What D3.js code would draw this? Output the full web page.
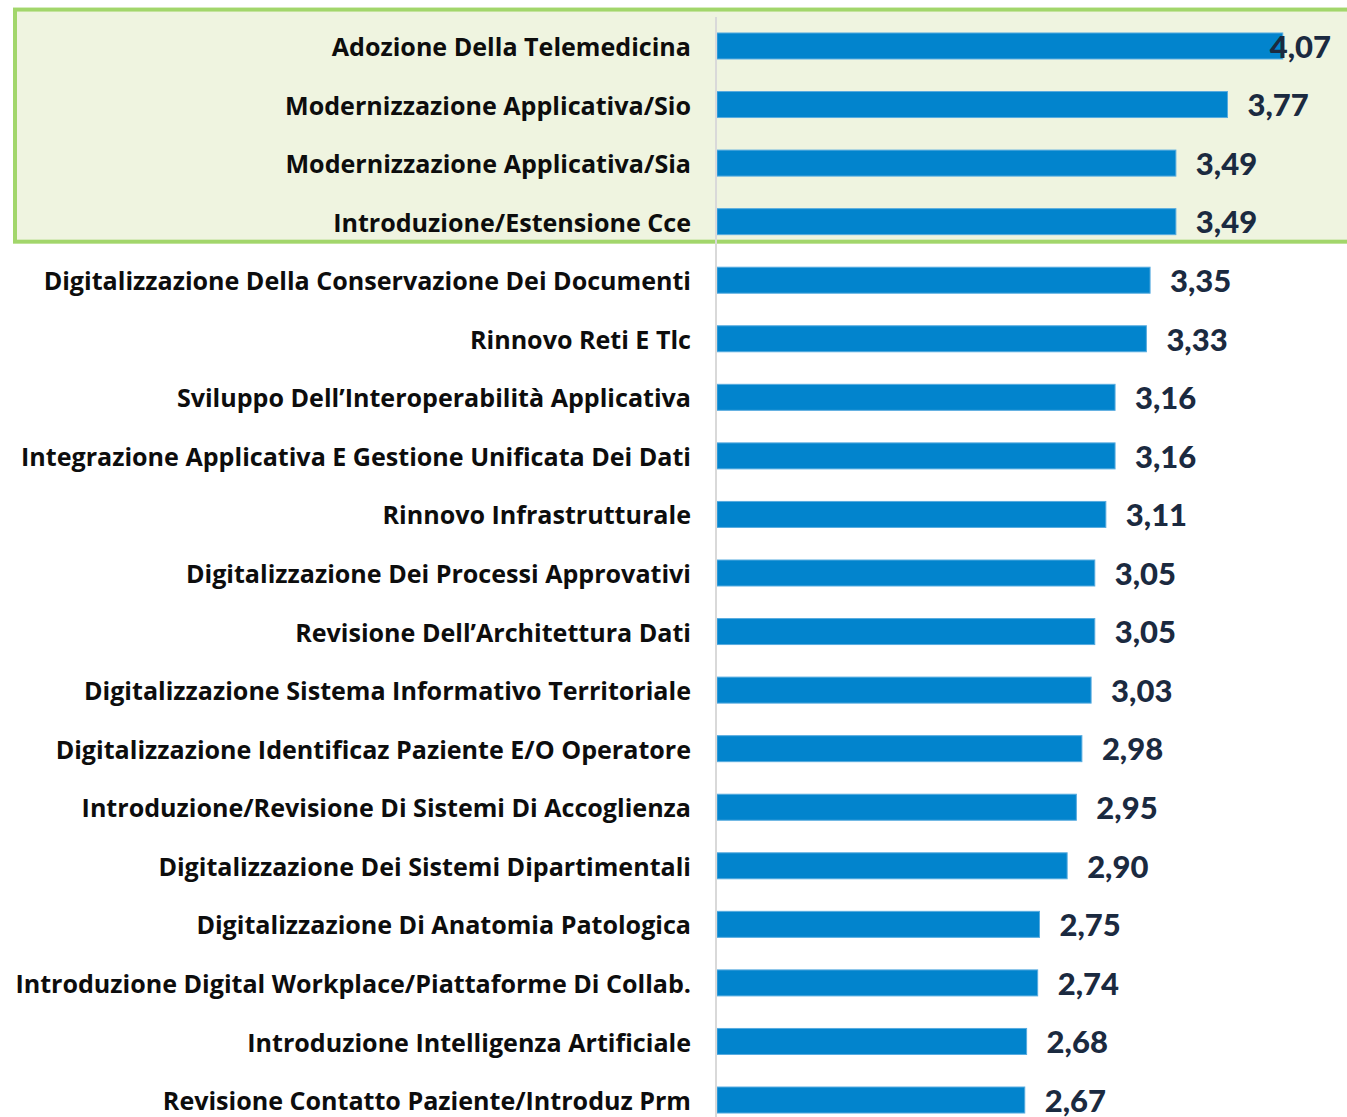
<!DOCTYPE html>
<html>
<head>
<meta charset="utf-8">
<script src="https://cdn.jsdelivr.net/npm/d3@7"></script>
<style>
  body { margin: 0; background: #fff; }
  svg { display: block; }
</style>
</head>
<body>
<div id="chart"></div>
<script>
const categories = [
    "Adozione Della Telemedicina",
    "Modernizzazione Applicativa/Sio",
    "Modernizzazione Applicativa/Sia",
    "Introduzione/Estensione Cce",
    "Digitalizzazione Della Conservazione Dei Documenti",
    "Rinnovo Reti E Tlc",
    "Sviluppo Dell’Interoperabilità Applicativa",
    "Integrazione Applicativa E Gestione Unificata Dei Dati",
    "Rinnovo Infrastrutturale",
    "Digitalizzazione Dei Processi Approvativi",
    "Revisione Dell’Architettura Dati",
    "Digitalizzazione Sistema Informativo Territoriale",
    "Digitalizzazione Identificaz Paziente E/O Operatore",
    "Introduzione/Revisione Di Sistemi Di Accoglienza",
    "Digitalizzazione Dei Sistemi Dipartimentali",
    "Digitalizzazione Di Anatomia Patologica",
    "Introduzione Digital Workplace/Piattaforme Di Collab.",
    "Introduzione Intelligenza Artificiale",
    "Revisione Contatto Paziente/Introduz Prm"
];
const values = [4.07, 3.77, 3.49, 3.49, 3.35, 3.33, 3.16, 3.16, 3.11, 3.05, 3.05, 3.03, 2.98, 2.95, 2.90, 2.75, 2.74, 2.68, 2.67];
const highlighted = categories.slice(0, 4);

const width = 1347, height = 1117;
const axisX = 716;

const svg = d3.select("#chart")
    .append("svg")
    .attr("width", width)
    .attr("height", height);

const x = d3.scaleLinear()
    .domain([1, 4.5])
    .range([717, 1362]);

const y = d3.scaleBand()
    .domain(categories)
    .range([16.7, 1129.3])
    .paddingInner(0.556)
    .paddingOuter(0.278);

const step = y.step();

// highlight box around top items
const boxTop = y(highlighted[0]) - 0.4 * step;
const boxBottom = y(highlighted[highlighted.length - 1]) + y.bandwidth() + 0.12 * step;
svg.append("rect")
    .attr("x", 15)
    .attr("y", boxTop)
    .attr("width", 1345)
    .attr("height", boxBottom - boxTop)
    .attr("fill", "#eff4e0")
    .attr("stroke", "#a2d66b")
    .attr("stroke-width", 4);

// bars
svg.selectAll(".bar")
    .data(categories)
    .enter()
    .append("rect")
    .attr("class", "bar")
    .attr("x", x(1))
    .attr("y", d => y(d))
    .attr("width", (d, i) => x(values[i]) - x(1))
    .attr("height", y.bandwidth())
    .attr("fill", "#0284cd")
    .attr("stroke", "#57abdf")
    .attr("stroke-width", 1);

// vertical axis line
svg.append("line")
    .attr("x1", axisX)
    .attr("x2", axisX)
    .attr("y1", 17)
    .attr("y2", height)
    .attr("stroke", "#d9d9d9")
    .attr("stroke-width", 2);

// category labels
const labels = svg.append("g")
    .attr("transform", `translate(${axisX - 25},0)`)
    .call(d3.axisLeft(y).tickSize(0).tickPadding(0))
    .call(g => g.select(".domain").remove())
    .selectAll("text")
    .attr("dy", "0.4em")
    .style("font-family", "'Open Sans', sans-serif")
    .style("font-weight", "bold")
    .style("font-size", "24px")
    .style("fill", "#0d0d0d");

// fit the longest label to the width seen in the original
let maxW = 0;
labels.each(function() { maxW = Math.max(maxW, this.getComputedTextLength()); });
labels.style("font-size", (24 * 676 / maxW).toFixed(2) + "px");

// value labels
const valueLabels = svg.selectAll(".val")
    .data(categories)
    .enter()
    .append("text")
    .attr("class", "val")
    .attr("y", d => y(d) + y.bandwidth() / 2)
    .attr("dy", "0.38em")
    .style("font-family", "Lato, 'Open Sans', sans-serif")
    .style("font-weight", "900")
    .style("font-size", "31px")
    .style("fill", "#1b2a40")
    .text((d, i) => values[i].toFixed(2).replace(".", ","));

valueLabels.attr("x", function(d, i) {
    const w = this.getComputedTextLength();
    return Math.min(x(values[i]) + 20, 1331 - w);
});
</script>
</body>
</html>
